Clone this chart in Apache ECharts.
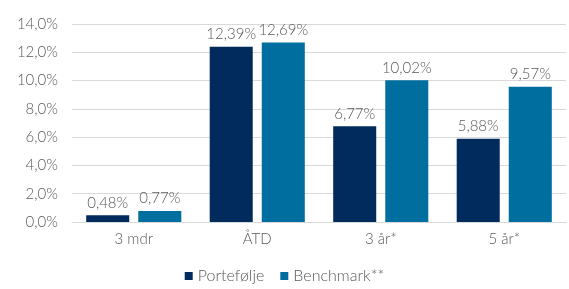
<!DOCTYPE html>
<html>
<head>
<meta charset="utf-8">
<script src="https://cdn.jsdelivr.net/npm/echarts@6/dist/echarts.min.js"></script>
<style>
  html, body { margin: 0; padding: 0; background: #fff; }
  #chart { width: 569px; height: 289px; }
</style>
</head>
<body>
<div id="chart"></div>
<script>
var categories = ['3 mdr', 'ÅTD', '3 år*', '5 år*'];
var portefolje = [0.48, 12.39, 6.77, 5.88];
var benchmark = [0.77, 12.69, 10.02, 9.57];

var chart = echarts.init(document.getElementById('chart'));

function pct(v, d) {
    return v.toFixed(d).replace('.', ',') + '%';
}

var font = 'Lato, "Noto Sans", sans-serif';

var option = {
    animation: false,
    textStyle: { fontFamily: font },
    grid: { left: 72, right: 3, top: 24, bottom: 67 },
    legend: {
        bottom: 0,
        itemWidth: 8,
        itemHeight: 8,
        itemGap: 16,
        icon: 'rect',
        textStyle: { color: '#595959', fontSize: 16, fontWeight: 300, fontFamily: font },
        data: ['Portefølje', 'Benchmark**']
    },
    xAxis: {
        type: 'category',
        data: categories,
        axisLine: { lineStyle: { color: '#d9d9d9' } },
        axisTick: { show: false },
        axisLabel: { color: '#595959', fontSize: 15, fontWeight: 300, margin: 10 }
    },
    yAxis: {
        type: 'value',
        min: 0,
        max: 14,
        interval: 2,
        axisLine: { show: false },
        axisTick: { show: false },
        splitLine: { lineStyle: { color: '#d9d9d9' } },
        axisLabel: {
            color: '#595959',
            fontSize: 15,
            fontWeight: 300,
            margin: 14,
            formatter: function (v) { return pct(v, 1); }
        }
    },
    series: [{
        name: 'Portefølje',
        type: 'bar',
        data: portefolje,
        barGap: '21%',
        barCategoryGap: '23%',
        itemStyle: { color: '#002b5c' },
        label: {
            show: true,
            position: 'top',
            color: '#595959',
            fontSize: 15,
            fontWeight: 300,
            formatter: function (p) { return pct(p.value, 2); }
        }
    }, {
        name: 'Benchmark**',
        type: 'bar',
        data: benchmark,
        itemStyle: { color: '#006f9f' },
        label: {
            show: true,
            position: 'top',
            color: '#595959',
            fontSize: 15,
            fontWeight: 300,
            formatter: function (p) { return pct(p.value, 2); }
        }
    }]
};

chart.setOption(option);
</script>
</body>
</html>
